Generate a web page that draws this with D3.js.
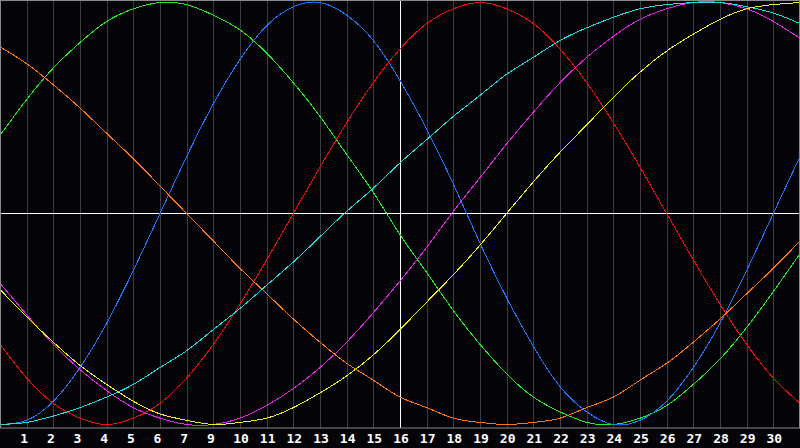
<!DOCTYPE html>
<html>
<head>
<meta charset="utf-8">
<script src="https://cdn.jsdelivr.net/npm/d3@7"></script>
<style>
body { margin: 0; background: #040408; }
svg { display: block; }
</style>
</head>
<body>
<div class="container"></div>
<script>
// one value per gridline (0..30), in percent
var days = d3.range(0, 31);
var tickLabels = ['1','2','3','4','5','6','7','9','10','11','12','13','14','15','16',
	'17','18','19','20','21','22','23','24','25','26','27','28','29','30'];

var green = [37,54,69,81,91,97,100,99,94,87,76,62,46,28,10,-10,-28,-46,-62,-76,-87,-94,-99,-100,-97,-91,-81,-69,-54,-37,-19];
var blue = [-100,-98,-89,-73,-52,-27,0,27,52,73,89,98,100,94,82,63,40,14,-14,-40,-63,-82,-94,-100,-98,-89,-73,-52,-27,0,27];
var red = [-62,-78,-90,-97,-100,-97,-90,-78,-62,-43,-22,0,22,43,62,78,90,97,100,97,90,78,62,43,22,0,-22,-43,-62,-78,-90];
var cyan = [-100,-99,-96,-92,-87,-81,-73,-65,-55,-45,-34,-23,-11,1,12,24,35,46,56,66,74,82,88,93,97,99,100,100,98,95,90];
var magenta = [-33,-48,-62,-74,-84,-92,-97,-100,-100,-97,-91,-83,-73,-61,-47,-32,-16,1,17,33,48,62,74,84,92,97,100,100,97,91,83];
var yellow = [-36,-49,-61,-72,-81,-89,-95,-98,-100,-99,-97,-92,-85,-77,-67,-55,-42,-29,-15,0,15,29,42,55,67,77,85,92,97,99,100];
var orange = [79,71,61,50,38,26,13,0,-13,-26,-38,-50,-61,-71,-79,-87,-92,-97,-99,-100,-99,-97,-92,-87,-79,-71,-61,-50,-38,-26,-13];

var series = [
	{values: green, color: '#22ee22'},
	{values: blue, color: '#2277ff'},
	{values: red, color: '#ee1111'},
	{values: magenta, color: '#ee22ee'},
	{values: cyan, color: '#22dddd'},
	{values: yellow, color: '#eeee22'},
	{values: orange, color: '#ff7711'}
];

const WIDTH = 800;
const HEIGHT = 448;
const PLOT_H = 428;

var svg = d3.select('.container').append('svg')
	.attr('width', WIDTH)
	.attr('height', HEIGHT);

svg.append('rect')
	.attr('width', WIDTH)
	.attr('height', HEIGHT)
	.attr('fill', '#040408');

var xScale = d3.scaleLinear()
	.domain([0, 30])
	.range([0, WIDTH]);

var yScale = d3.scaleLinear()
	.domain([-100, 100])
	.range([424.5, 2.5]);

// vertical day gridlines
svg.append('g').selectAll('line')
	.data(d3.range(1, 30))
	.join('line')
	.attr('x1', function(d){ return Math.round(xScale(d)) + 0.5; })
	.attr('x2', function(d){ return Math.round(xScale(d)) + 0.5; })
	.attr('y1', 0)
	.attr('y2', PLOT_H)
	.attr('stroke', d3.rgb(62, 62, 66))
	.attr('stroke-width', 1);

// centre cross
svg.append('line')
	.attr('x1', xScale(15) + 0.5).attr('x2', xScale(15) + 0.5)
	.attr('y1', 0).attr('y2', PLOT_H)
	.attr('stroke', '#ffffff');
svg.append('line')
	.attr('x1', 0).attr('x2', WIDTH)
	.attr('y1', Math.floor(yScale(0)) + 0.5).attr('y2', Math.floor(yScale(0)) + 0.5)
	.attr('stroke', '#ffffff');

var line = d3.line()
	.x(function(d, i){ return xScale(days[i]); })
	.y(function(d){ return yScale(d); })
	.curve(d3.curveNatural);

svg.append('g').selectAll('path')
	.data(series)
	.join('path')
	.attr('d', function(s){ return line(s.values); })
	.attr('fill', 'none')
	.attr('stroke', function(s){ return s.color; })
	.attr('stroke-width', 1)
	.attr('shape-rendering', 'crispEdges');

// frame
svg.append('rect')
	.attr('x', 0.5).attr('y', 0.5)
	.attr('width', WIDTH - 1).attr('height', PLOT_H - 0.5)
	.attr('fill', 'none')
	.attr('stroke', '#8a8a8a');

svg.append('g').selectAll('text')
	.data(tickLabels)
	.join('text')
	.attr('x', function(d, i){ return xScale(i + 1) - (d.length > 1 ? -1 : 2.5); })
	.attr('y', 443)
	.attr('text-anchor', 'middle')
	.attr('fill', '#ffffff')
	.attr('font-family', '"DejaVu Sans Mono", monospace')
	.attr('font-weight', 'bold')
	.attr('font-size', '13px')
	.text(function(d){ return d; });
</script>
</body>
</html>
